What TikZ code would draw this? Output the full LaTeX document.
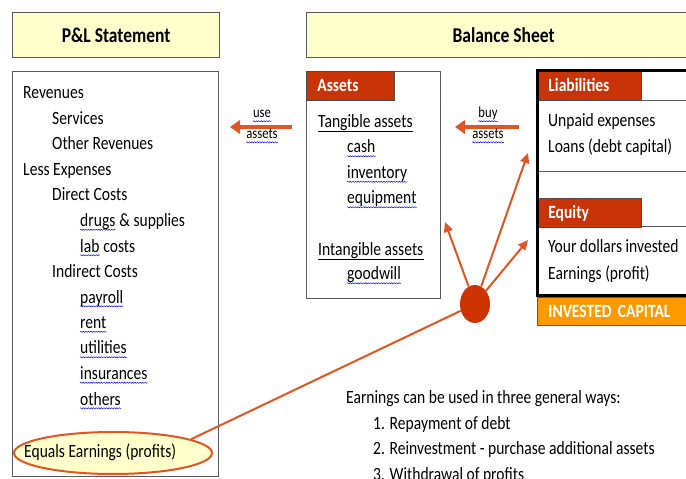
\documentclass[tikz,border=0pt]{standalone}
\usepackage{fontspec}
\setmainfont[FakeStretch=0.83]{Carlito}
\usetikzlibrary{arrows.meta,shapes.geometric,decorations.pathmorphing}

\definecolor{paleyellow}{RGB}{255,255,204}
\definecolor{hdrred}{RGB}{200,52,8}
\definecolor{dotred}{RGB}{204,51,0}
\definecolor{arrred}{RGB}{225,85,35}
\definecolor{caporange}{RGB}{255,153,0}
\definecolor{framegray}{RGB}{89,89,89}

\tikzset{
  titlebox/.style={draw=framegray, fill=paleyellow, line width=1pt, anchor=north west,
    minimum height=1.35cm, font=\fontsize{18}{21}\selectfont\bfseries},
  panel/.style={draw=framegray, line width=0.8pt, anchor=north west, inner sep=0pt},
  head/.style={fill=hdrred, draw=black!70, line width=0.6pt, anchor=north west,
    text=white, font=\fontsize{16}{19}\selectfont\bfseries, inner xsep=0.33cm,
    inner ysep=0pt, minimum height=0.87cm, text height=0.36cm, text depth=0pt},
  txt/.style={anchor=base west, inner sep=0pt, font=\fontsize{16}{19}\selectfont},
  lbl/.style={anchor=base, inner sep=0pt, font=\fontsize{13}{15}\selectfont},
  % blue wavy underline of the spell checker
  wave/.style={draw=blue, line width=0.4pt, decorate,
    decoration={snake, amplitude=0.5pt, segment length=2.2pt}},
  squig/.style={append after command={
    ([yshift=-2.8pt]\tikzlastnode.base west) edge[wave] ([yshift=-2.8pt]\tikzlastnode.base east)}},
  uline/.style={append after command={
    ([yshift=-3pt]\tikzlastnode.base west) edge[draw=black, line width=0.6pt] ([yshift=-3pt]\tikzlastnode.base east)}},
  fat/.style={draw=arrred, line width=0.12cm, -{Triangle[length=0.3cm,width=0.4cm]}},
  ray/.style={draw=arrred, line width=0.06cm, -{Triangle[length=0.3cm,width=0.27cm]}},
}

\begin{document}
\begin{tikzpicture}[x=0.03cm, y=-0.03cm]

  \useasboundingbox (0,0) rectangle (686,479);

  % titles
  \node[titlebox, minimum width=6.21cm] (pltitle) at (12,12) {P\&L Statement};
  \node[titlebox, minimum width=11.82cm] (bstitle) at (306,12) {Balance Sheet};

  % P&L statement
  \node[panel, minimum width=6.18cm, minimum height=12.15cm] (pl) at (12,71) {};
  \node[ellipse, draw=arrred, line width=0.06cm, fill=paleyellow, inner sep=0pt,
        minimum width=5.94cm, minimum height=1.26cm] (earn) at (113,453) {};

  \node[txt] (rev)      at (23,99)    {Revenues};
  \node[txt] (serv)     at (52,124.5) {Services};
  \node[txt] (other)    at (52,150)   {Other Revenues};
  \node[txt] (less)     at (23,175.5) {Less Expenses};
  \node[txt] (direct)   at (52,201)   {Direct Costs};
  \node[txt, squig] (drugs) at (80,226.5) {drugs};
  \node[txt] (supplies) at (drugs.base east) {\ \& supplies};
  \node[txt, squig] (lab) at (80,252) {lab};
  \node[txt] (costs)    at (lab.base east) {\ costs};
  \node[txt] (indirect) at (52,277.5) {Indirect Costs};
  \node[txt, squig] (payroll) at (80,303)   {payroll};
  \node[txt, squig] (rent)    at (80,328.5) {rent};
  \node[txt, squig] (util)    at (80,354)   {utilities};
  \node[txt, squig] (insur)   at (80,379.5) {insurances};
  \node[txt, squig] (others)  at (80,405)   {others};
  \node[txt] (earntext) at (24,457)   {Equals Earnings (profits)};

  % assets
  \node[panel, minimum width=4.02cm, minimum height=6.81cm] (assets) at (306,71) {};
  \node[head, text width=1.98cm] (assethead) at (306,71) {Assets};

  \node[txt, uline] (tang)   at (318,128)   {Tangible assets};
  \node[txt, squig] (cash)   at (347,153)   {cash};
  \node[txt, squig] (inv)    at (347,178.5) {inventory};
  \node[txt, squig] (equip)  at (347,204)   {equipment};
  \node[txt, uline] (intang) at (318,255.5) {Intangible assets};
  \node[txt, squig] (good)   at (347,280)   {goodwill};

  % liabilities and equity
  \node[panel, minimum width=5.04cm, minimum height=2.13cm] (liab) at (537,100) {};
  \node[panel, minimum width=5.04cm, minimum height=2.07cm] (equity) at (537,226) {};
  \node[head, text width=2.46cm] (liabhead) at (537,71) {Liabilities};
  \node[head, text width=2.46cm] (eqhead) at (537,198) {Equity};
  \draw[line width=0.09cm] (liabhead.north west) rectangle (equity.south east);
  \node[head, fill=caporange, draw=framegray, minimum height=0.84cm, text width=4.38cm]
        (capital) at (537,297) {INVESTED CAPITAL};

  \node[txt] (unpaid)  at (548,127) {Unpaid expenses};
  \node[txt] (loans)   at (548,153) {Loans (debt capital)};
  \node[txt] (dollars) at (548,253) {Your dollars invested};
  \node[txt] (profit)  at (548,280) {Earnings (profit)};

  % flows
  \coordinate (useS) at (292,127);
  \coordinate (useE) at (230,127);
  \coordinate (buyS) at (519,127);
  \coordinate (buyE) at (455,127);
  \draw[fat] (useS) -- (useE);
  \draw[fat] (buyS) -- (buyE);
  \node[lbl, squig] (use)       at (262,118) {use};
  \node[lbl, squig] (useassets) at (262,139) {assets};
  \node[lbl, squig] (buy)       at (488,118) {buy};
  \node[lbl, squig] (buyassets) at (488,139) {assets};

  \node[ellipse, fill=dotred, inner sep=0pt, minimum width=0.9cm,
        minimum height=1.14cm] (dot) at (475,304) {};
  \coordinate (toassets) at (445,222);
  \coordinate (toliab)   at (528,153);
  \coordinate (toequity) at (528,240);
  \draw[arrred, line width=0.06cm] (earn.10) -- (dot);
  \draw[ray] (dot) -- (toassets);
  \draw[ray] (dot) -- (toliab);
  \draw[ray] (dot) -- (toequity);

  % uses of earnings
  \node[txt] (uses)  at (346,403)   {Earnings can be used in three general ways:};
  \node[txt] (repay) at (373,429)   {1. Repayment of debt};
  \node[txt] (reinv) at (373,454.5) {2. Reinvestment - purchase additional assets};
  \node[txt] (withd) at (373,480)   {3. Withdrawal of profits};

\end{tikzpicture}
\end{document}
